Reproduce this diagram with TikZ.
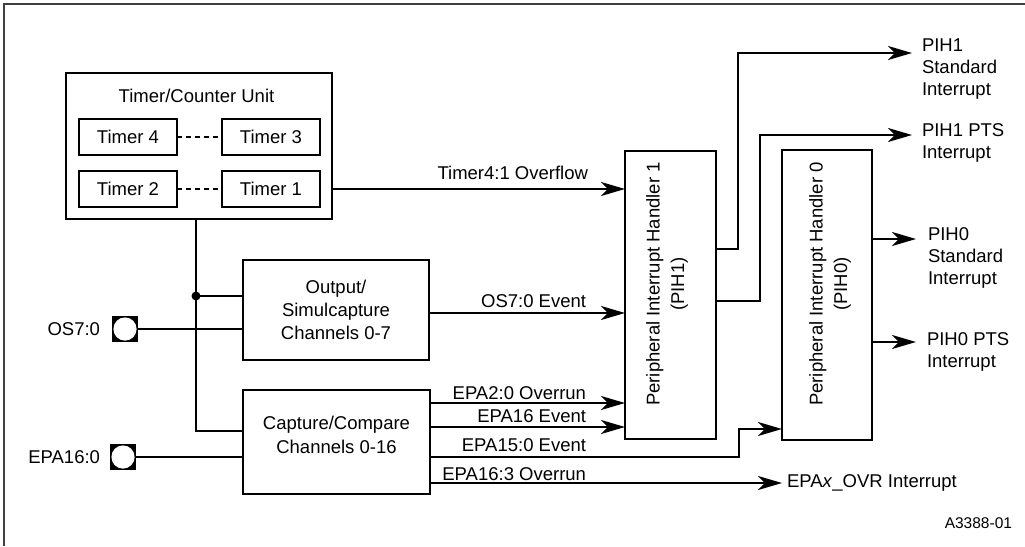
\documentclass[tikz,border=0pt]{standalone}
\usepackage{fontspec}
\setmainfont{Liberation Sans}
\usetikzlibrary{arrows.meta,calc}
\begin{document}
\begin{tikzpicture}[x=1pt,y=-1pt,
  every node/.style={inner sep=0pt, outer sep=0pt, font=\fontsize{18.5}{23}\selectfont},
  box/.style={draw, line width=2.6pt},
  conn/.style={line width=2.4pt},
  arr/.style={conn, -{Stealth[length=24pt 0,width=14pt 0,inset=7pt 0]}},
  dashline/.style={line width=1.3pt, dash pattern=on 4.5pt off 4.5pt},
  pad/.style={fill=black, minimum size=26pt, inner sep=0pt,
    path picture={\fill[white] (path picture bounding box.center) circle (11.6pt);}},
  lbl/.style={anchor=east},
  outtxt/.style={anchor=west, align=left, font=\fontsize{18.5}{22}\selectfont}]

\useasboundingbox (0,0) rectangle (1025,546);
\draw[line width=1.6pt, black!75] (4,546) -- (4,4) -- (1025,4);

% Timer/Counter unit
\node[box, minimum width=266pt, minimum height=146pt] (tcu) at (199,146) {};
\node (tcut) at (196.5,96) {Timer/Counter Unit};
\node[box, minimum width=98pt, minimum height=36pt] (t4) at (128,137) {Timer 4};
\node[box, minimum width=98pt, minimum height=36pt] (t3) at (271,137) {Timer 3};
\node[box, minimum width=98pt, minimum height=36pt] (t2) at (128,189) {Timer 2};
\node[box, minimum width=98pt, minimum height=36pt] (t1) at (271,189) {Timer 1};
\draw[dashline] (t4) -- (t3);
\draw[dashline] (t2) -- (t1);

% Output / capture blocks
\node[box, minimum width=186pt, minimum height=100pt, align=center] (out) at (336,310) {Output/\\Simulcapture\\Channels 0-7};
\node[box, minimum width=187pt, minimum height=104pt] (cap) at (336.5,442) {};
\node[align=center, font=\fontsize{18.5}{23.5}\selectfont] (capt) at (336.5,435) {Capture/Compare\\Channels 0-16};

% Interrupt handlers
\node[box, minimum width=91pt, minimum height=288pt] (pih1) at (670.5,295) {};
\node[rotate=90, align=center, font=\fontsize{18.5}{24.5}\selectfont] (pih1t) at (667,284) {Peripheral Interrupt Handler 1\\(PIH1)};
\node[box, minimum width=90pt, minimum height=290pt] (pih0) at (827,295) {};
\node[rotate=90, align=center, font=\fontsize{18.5}{24.5}\selectfont] (pih0t) at (830,284) {Peripheral Interrupt Handler 0\\(PIH0)};

% Pins
\node[pad] (os7p) at (125,329) {};
\node[anchor=east] (os7l) at (100,329) {OS7:0};
\node[pad] (epap) at (123,457) {};
\node[anchor=east] (epal) at (100,457) {EPA16:0};

% Timer bus
\node[circle, fill, minimum size=9pt] (dot) at (196,296) {};
\coordinate (cc) at (196,431);
\draw[conn] (dot |- tcu.south) -- (cc) -- (cc -| cap.west);
\draw[conn] (dot.center) -- (dot.center -| out.west);
\draw[conn] (os7p.east) -- (os7p.east -| out.west);
\draw[conn] (epap.east) -- (epap.east -| cap.west);

% Signals into PIH1 / PIH0
\draw[arr] (tcu.east |- t1) -- (pih1.west |- t1);
\node[lbl] (l1) at (588,173) {Timer4:1 Overflow};
\draw[arr] ([yshift=-3pt]out.east) -- ([yshift=-3pt]out.east -| pih1.west);
\node[lbl] (l2) at (586,301) {OS7:0 Event};

\draw[arr] ([yshift=39pt]cap.east) -- ([yshift=39pt]cap.east -| pih1.west);
\node[lbl] (l3) at (586,393) {EPA2:0 Overrun};
\draw[arr] ([yshift=15pt]cap.east) -- ([yshift=15pt]cap.east -| pih1.west);
\node[lbl] (l4) at (586,416) {EPA16 Event};
\coordinate (e15) at (739,429);
\draw[arr] ([yshift=-15pt]cap.east) -| (e15) -- (e15 -| pih0.west);
\node[lbl] (l5) at (586,445) {EPA15:0 Event};
\node[anchor=west, inner xsep=5pt] (ovr) at (782,483) {EPA\textit{x}\_OVR Interrupt};
\draw[arr] ([yshift=-41pt]cap.east) -- (ovr.west);
\node[lbl] (l6) at (586,474) {EPA16:3 Overrun};

% Outputs of handlers
\coordinate (p1a) at (738,53);
\coordinate (o1) at (912,53);
\draw[arr] ([yshift=46pt]pih1.east) -| (p1a) -- (o1);
\coordinate (p1b) at (760,135);
\coordinate (o2) at (912,135);
\draw[arr] ([yshift=-6pt]pih1.east) -| (p1b) -- (o2);
\coordinate (o3) at (916,239);
\coordinate (o4) at (916,342);
\draw[arr] (pih0.east |- o3) -- (o3);
\draw[arr] (pih0.east |- o4) -- (o4);

\node[outtxt] (s1) at (922,69.5) {PIH1\\Standard\\Interrupt};
\node[outtxt] (s2) at (922,142.5) {PIH1 PTS\\Interrupt};
\node[outtxt] (s3) at (928,258) {PIH0\\Standard\\Interrupt};
\node[outtxt] (s4) at (927,351.5) {PIH0 PTS\\Interrupt};

\node[anchor=east, font=\fontsize{15.5}{18}\selectfont] (code) at (1012,523) {A3388-01};
\end{tikzpicture}
\end{document}
